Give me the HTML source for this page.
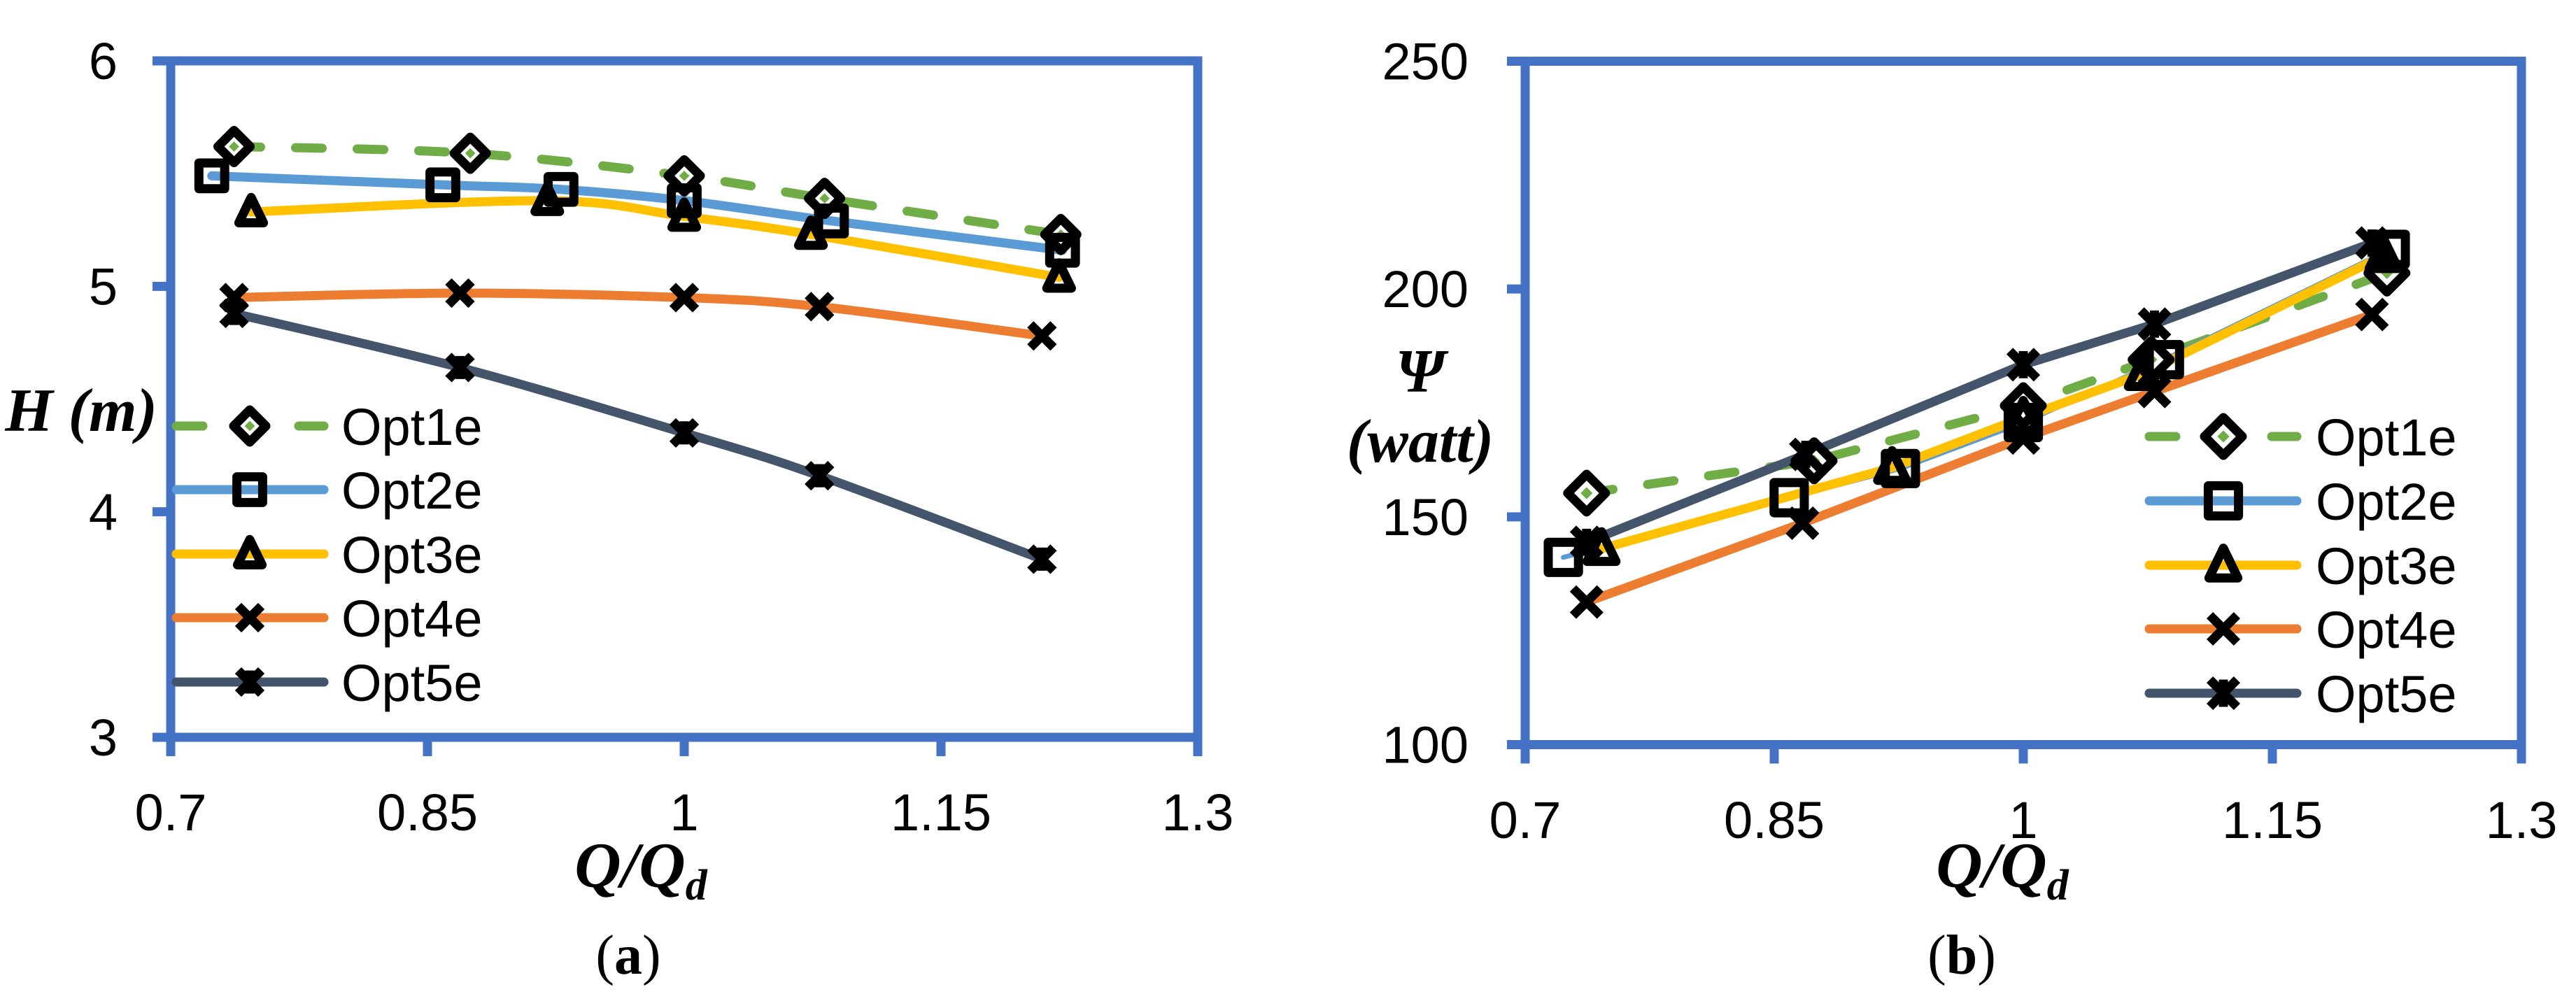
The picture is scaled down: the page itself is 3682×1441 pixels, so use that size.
<!DOCTYPE html>
<html><head><meta charset="utf-8">
<style>
html,body{margin:0;padding:0;background:#fff;}
svg{display:block;}
.tick{font-family:"Liberation Sans",sans-serif;font-size:74px;fill:#000;}
.leg{font-family:"Liberation Sans",sans-serif;font-size:74px;fill:#000;}
.ttl{font-family:"Liberation Serif",serif;font-style:italic;font-weight:bold;fill:#000;}
.cap{font-family:"Liberation Serif",serif;fill:#000;font-size:80px;}
</style></head>
<body>
<svg id="chart" width="3682" height="1441" viewBox="0 0 3682 1441" xmlns="http://www.w3.org/2000/svg">
  <g id="plotA"></g>
  <g id="plotB"></g>
  <text class="ttl" x="116" y="616" font-size="88" text-anchor="middle">H (m)</text>
  <text class="ttl" x="916" y="1268" font-size="92" text-anchor="middle">Q/Q<tspan font-size="62" dy="18">d</tspan></text>
  <text class="cap" x="898" y="1392" text-anchor="middle">(<tspan font-weight="bold">a</tspan>)</text>
  <text class="ttl" x="2030" y="560" font-size="88" text-anchor="middle">Ψ</text>
  <text class="ttl" x="2030" y="660" font-size="88" text-anchor="middle">(watt)</text>
  <text class="ttl" x="2862" y="1268" font-size="92" text-anchor="middle">Q/Q<tspan font-size="62" dy="18">d</tspan></text>
  <text class="cap" x="2804" y="1392" text-anchor="middle">(<tspan font-weight="bold">b</tspan>)</text>
</svg>
<script>
const seriesNames = ["Opt1e","Opt2e","Opt3e","Opt4e","Opt5e"];
const xTicks = [0.7, 0.85, 1, 1.15, 1.3];
const xTickLabels = ["0.7","0.85","1","1.15","1.3"];
const yTicksA = [3, 4, 5, 6];
const yTicksB = [100, 150, 200, 250];

// Chart (a): H (m)
const a1x = [0.737, 0.875, 1.0, 1.082, 1.220];
const a1y = [5.62, 5.59, 5.49, 5.39, 5.23];
const a2x = [0.724, 0.859, 0.928, 1.0, 1.086, 1.221];
const a2y = [5.49, 5.45, 5.43, 5.38, 5.29, 5.16];
const a3x = [0.747, 0.920, 1.0, 1.074, 1.219];
const a3y = [5.33, 5.38, 5.31, 5.23, 5.04];
const a4x = [0.737, 0.869, 1.0, 1.079, 1.209];
const a4y = [4.95, 4.97, 4.95, 4.91, 4.78];
const a5x = [0.737, 0.869, 1.0, 1.079, 1.209];
const a5y = [4.88, 4.64, 4.35, 4.16, 3.79];

// Chart (b): Psi (watt)
const b1x = [0.737, 0.874, 1.0, 1.077, 1.219];
const b1y = [155.2, 162.3, 174.4, 184.5, 203.5];
const b2x = [0.723, 0.859, 0.926, 1.0, 1.085, 1.221];
const b2y = [141.1, 154.2, 160.6, 170.7, 184.5, 208.7];
const b3x = [0.746, 0.921, 1.0, 1.072, 1.217];
const b3y = [143.0, 160.8, 171.8, 181.4, 207.3];
const b4x = [0.737, 0.867, 1.0, 1.079, 1.210];
const b4y = [131.3, 148.6, 167.3, 177.5, 194.4];
const b5x = [0.737, 0.869, 1.0, 1.079, 1.210];
const b5y = [144.4, 163.7, 183.4, 192.3, 210.1];

const colors = ["#70AD47","#5B9BD5","#FFC000","#ED7D31","#44546A"];
const markers = ["diamond","square","triangle","x","star"];
const NS = "http://www.w3.org/2000/svg";
const AX = "#4472C4";

function mk(tag, attrs, parent){
  const e = document.createElementNS(NS, tag);
  for (const k in attrs) e.setAttribute(k, attrs[k]);
  parent.appendChild(e);
  return e;
}

function smoothPath(pts){
  if (pts.length < 2) return "";
  let d = "M" + pts[0][0] + "," + pts[0][1];
  const t = 0.5/3;
  for (let i = 0; i < pts.length-1; i++){
    const p0 = pts[Math.max(0,i-1)], p1 = pts[i], p2 = pts[i+1], p3 = pts[Math.min(pts.length-1,i+2)];
    const c1 = [p1[0] + (p2[0]-p0[0])*t, p1[1] + (p2[1]-p0[1])*t];
    const c2 = [p2[0] - (p3[0]-p1[0])*t, p2[1] - (p3[1]-p1[1])*t];
    d += " C" + c1[0] + "," + c1[1] + " " + c2[0] + "," + c2[1] + " " + p2[0] + "," + p2[1];
  }
  return d;
}

function drawMarker(g, type, cx, cy, s, color){
  const sw = 13;
  let el;
  if (type === "diamond"){
    const h = s*0.5;
    el = mk("polygon", {points:`${cx},${cy-h} ${cx+h},${cy} ${cx},${cy+h} ${cx-h},${cy}`, fill:"#fff", stroke:"#000", "stroke-width":sw, "stroke-linejoin":"round"}, g);
    const q = s*0.16;
    const inner = mk("polygon", {points:`${cx},${cy-q} ${cx+q},${cy} ${cx},${cy+q} ${cx-q},${cy}`, fill:color}, g);
    
    
  } else if (type === "square"){
    const h = s*0.4;
    el = mk("rect", {x:cx-h, y:cy-h, width:2*h, height:2*h, fill:"none", stroke:"#000", "stroke-width":sw, "stroke-linejoin":"round"}, g);
  } else if (type === "triangle"){
    const h = s*0.45;
    el = mk("polygon", {points:`${cx},${cy-h} ${cx+h*0.85},${cy+h*0.75} ${cx-h*0.85},${cy+h*0.75}`, fill:"none", stroke:"#000", "stroke-width":sw, "stroke-linejoin":"round"}, g);
  } else if (type === "x"){
    const h = s*0.36;
    el = mk("path", {d:`M${cx-h},${cy-h}L${cx+h},${cy+h}M${cx+h},${cy-h}L${cx-h},${cy+h}`, stroke:"#000", "stroke-width":sw, fill:"none"}, g);
  } else {
    const h = s*0.36;
    el = mk("path", {d:`M${cx-h},${cy-h}L${cx+h},${cy+h}M${cx+h},${cy-h}L${cx-h},${cy+h}M${cx},${cy-h}L${cx},${cy+h}`, stroke:"#000", "stroke-width":sw, fill:"none"}, g);
  }
  
  
}

function drawChart(cfg){
  const g = document.getElementById(cfg.id);
  const sx = v => cfg.x0 + (v - 0.7)/(1.3 - 0.7)*(cfg.x1 - cfg.x0);
  const sy = v => cfg.yb + (v - cfg.ymin)/(cfg.ymax - cfg.ymin)*(cfg.yt - cfg.yb);

  const frame = mk("rect", {x:cfg.x0, y:cfg.yt, width:cfg.x1-cfg.x0, height:cfg.yb-cfg.yt, fill:"none", stroke:AX, "stroke-width":13}, g);
  
  

  cfg.yTicks.forEach(v => {
    const y = sy(v);
    const t = mk("line", {x1:cfg.x0-26, x2:cfg.x0, y1:y, y2:y, stroke:AX, "stroke-width":13}, g);
    
    
    const lb = mk("text", {x:cfg.yLabelX, y:y+26, "text-anchor":"end", class:"tick"}, g);
    lb.textContent = String(v);
    
    
  });
  xTicks.forEach((v, i) => {
    const x = sx(v);
    const t = mk("line", {x1:x, x2:x, y1:cfg.yb, y2:cfg.yb+27, stroke:AX, "stroke-width":13}, g);
    
    
    const lb = mk("text", {x:x, y:cfg.xLabelY, "text-anchor":"middle", class:"tick"}, g);
    lb.textContent = xTickLabels[i];
    
    
  });

  const order = [0,1,2,3,4];
  order.forEach(i => {
    const pts = cfg.xs[i].map((v, k) => [sx(v), sy(cfg.ys[i][k])]);
    let d;
    if (cfg.smooth) d = smoothPath(pts);
    else d = "M" + pts.map(p => p[0] + "," + p[1]).join(" L");
    const attrs = {d:d, fill:"none", stroke:colors[i], "stroke-width": (i===1 ? cfg.blueW : 13), "stroke-linecap":"round", "stroke-linejoin":"round"};
    if (i === 0){ attrs["stroke-dasharray"] = "38 50"; }
    const p = mk("path", attrs, g);
    
    
  });
  order.forEach(i => {
    const mg = mk("g", {}, g);
    
    
    cfg.xs[i].forEach((v, k) => drawMarker(mg, markers[i], sx(v), sy(cfg.ys[i][k]), cfg.ms, colors[i]));
  });

  const lg = mk("g", {}, g);
  
  
  seriesNames.forEach((nm, i) => {
    const y = cfg.legY[i];
    const eg = mk("g", {}, lg);
    
    
    const attrs = {x1:cfg.legX0+6, x2:cfg.legX1-6, y1:y, y2:y, stroke:colors[i], "stroke-width":13, "stroke-linecap":"round"};
    if (i === 0) attrs["stroke-dasharray"] = "38 137";
    const l = mk("line", attrs, eg);
    
    
    drawMarker(eg, markers[i], cfg.legM, y, cfg.ms, colors[i]);
    const t = mk("text", {x:cfg.legT, y:y+27, class:"leg"}, eg);
    t.textContent = nm;
    
    
  });
}

drawChart({id:"plotA", x0:244, x1:1712, yt:87, yb:1054, ymin:3, ymax:6, yTicks:yTicksA,
  yLabelX:168, xLabelY:1187, xs:[a1x,a2x,a3x,a4x,a5x], ys:[a1y,a2y,a3y,a4y,a5y], smooth:true, blueW:13, ms:46,
  legY:[609,700,792,883,975], legX0:246, legX1:469, legM:357, legT:488});
drawChart({id:"plotB", x0:2180, x1:3604, yt:87.5, yb:1064.5, ymin:100, ymax:250, yTicks:yTicksB,
  yLabelX:2099, xLabelY:1198, xs:[b1x,b2x,b3x,b4x,b5x], ys:[b1y,b2y,b3y,b4y,b5y], smooth:false, blueW:7, ms:54,
  legY:[624,716,808,899,991], legX0:3066, legX1:3289, legM:3178, legT:3310});
</script>
</body></html>
